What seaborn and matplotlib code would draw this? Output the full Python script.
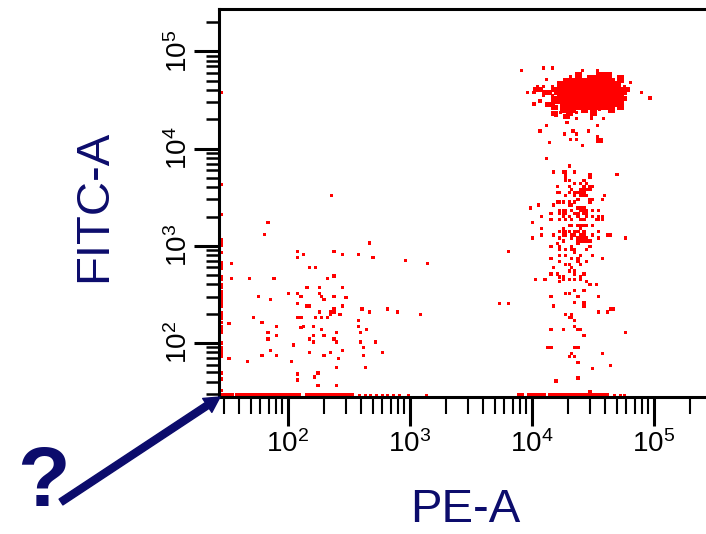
import numpy as np
import pandas as pd
import matplotlib
matplotlib.use("Agg")
import matplotlib.pyplot as plt
import seaborn as sns
from matplotlib.ticker import FixedLocator, NullFormatter, FuncFormatter
from matplotlib.patches import FancyArrowPatch
from matplotlib.transforms import IdentityTransform

# ---------------- data (log10 of the channel values) ----
# negative (FITC-low / PE-low) population: paired lists
neg_pe = [2.36, 1.84, 1.81, 2.67, 2.08, 2.38, 2.13, 2.08, 2.45, 2.58, 2.70, 2.97, 3.15, 1.54,
          2.18, 2.23, 1.54, 1.69, 1.89, 2.33, 2.38, 2.16, 2.26, 2.45, 1.76, 1.86, 2.01, 2.08,
          2.11, 2.26, 2.28, 2.30, 2.38, 2.48, 2.08, 2.16, 2.18, 2.45, 2.38, 2.26, 2.35, 2.38,
          2.61, 2.67, 2.82, 2.90, 3.09, 2.43, 2.35, 2.33, 2.28, 2.23, 2.08, 2.11, 1.72, 1.52,
          1.79, 1.91, 2.11, 2.13, 2.21, 2.28, 2.58, 2.58, 2.65, 1.84, 1.91, 2.21, 2.30, 2.40,
          2.60, 1.84, 2.18, 2.21, 2.38, 2.40, 2.60, 2.72, 2.05, 2.62, 1.86, 2.45, 1.79, 1.91,
          2.18, 2.30, 2.35, 2.62, 2.78, 1.52, 1.67, 2.03, 2.42, 2.40, 2.64, 2.08, 2.25, 2.22,
          2.08, 2.25, 2.40, 1.86, 2.35, 3.81, 3.74, 3.81]
neg_fitc = [3.52, 3.24, 3.12, 3.03, 2.94, 2.94, 2.91, 2.88, 2.91, 2.91, 2.88, 2.85, 2.82, 2.82,
            2.78, 2.78, 2.66, 2.66, 2.66, 2.66, 2.69, 2.57, 2.57, 2.57, 2.48, 2.45, 2.51, 2.51,
            2.48, 2.51, 2.48, 2.45, 2.48, 2.47, 2.41, 2.38, 2.38, 2.38, 2.35, 2.32, 2.32, 2.32,
            2.35, 2.32, 2.35, 2.32, 2.29, 2.29, 2.29, 2.26, 2.26, 2.26, 2.26, 2.26, 2.26, 2.20,
            2.21, 2.17, 2.16, 2.17, 2.17, 2.14, 2.23, 2.17, 2.14, 2.11, 2.08, 2.08, 2.08, 2.11,
            2.11, 2.04, 2.04, 2.01, 2.04, 2.01, 2.01, 2.01, 1.98, 1.95, 1.92, 1.92, 1.87, 1.87,
            1.90, 1.87, 1.90, 1.87, 1.90, 1.84, 1.81, 1.81, 1.84, 1.75, 1.75, 1.68, 1.69, 1.65,
            1.62, 1.56, 1.56, 1.47, 1.47, 2.94, 2.41, 2.41]

# positive (PE-high) population: one FITC value per row, PE values in that row
pos_fitc_rows = [4.83, 4.80, 4.74, 4.71, 4.68, 4.64, 4.58, 4.55, 4.52, 4.49, 4.46, 4.40, 4.37,
                 4.34, 4.31, 4.27, 4.24, 4.18, 4.15, 4.12, 4.09, 4.06, 4.03, 3.90, 3.82, 3.76,
                 3.73, 3.70, 3.67, 3.64, 3.61, 3.58, 3.55, 3.52, 3.48, 3.45, 3.42, 3.39, 3.36,
                 3.33, 3.30, 3.27, 3.24, 3.21, 3.18, 3.15, 3.11, 3.08, 3.05, 3.02, 2.99, 2.96,
                 2.93, 2.90, 2.87, 2.84, 2.81, 2.78, 2.74, 2.71, 2.68, 2.65, 2.63, 2.60, 2.54,
                 2.51, 2.48, 2.42, 2.38, 2.35, 2.32, 2.29, 2.26, 2.23, 2.17, 2.14, 2.11, 2.08,
                 1.95, 1.89, 1.86, 1.80, 1.77, 1.74, 1.64, 1.61, 1.50, 1.47]
pos_pe_rows = [
    [4.10, 4.17], [3.92, 4.42, 4.54], [4.32], [4.12], [4.81], [4.05, 4.10, 4.17, 4.76],
    [3.97, 4.02, 4.90], [4.10, 4.17], [4.97], [4.07], [4.02], [4.56], [4.24, 4.37],
    [4.20, 4.49], [4.37, 4.49, 4.59], [4.29], [4.12, 4.54], [4.07, 4.34, 4.47], [4.27, 4.37],
    [4.54], [4.32, 4.37], [4.15], [4.42], [4.12], [4.31], [4.18, 4.26, 4.28, 4.35],
    [4.28, 4.48, 4.70], [4.28, 4.48], [4.28, 4.31, 4.43], [4.35, 4.40, 4.45],
    [4.21, 4.31, 4.43, 4.48, 4.50], [4.33, 4.40, 4.43, 4.45, 4.48],
    [4.21, 4.23, 4.31, 4.35, 4.38, 4.40, 4.43], [4.28, 4.35, 4.40, 4.43, 4.45, 4.60],
    [4.38, 4.48, 4.50, 4.58], [4.21, 4.23, 4.26, 4.31, 4.35, 4.48], [4.06, 4.18, 4.31, 4.33],
    [3.99, 4.38, 4.40, 4.43], [4.23, 4.26, 4.28, 4.33, 4.40, 4.43, 4.45, 4.50, 4.55],
    [4.16, 4.23, 4.26, 4.28, 4.35, 4.38, 4.43, 4.45],
    [4.08, 4.26, 4.31, 4.38, 4.45, 4.50, 4.55, 4.58],
    [4.16, 4.23, 4.28, 4.33, 4.40, 4.43, 4.53, 4.55, 4.58], [4.01],
    [4.31, 4.33, 4.38, 4.40, 4.43, 4.45, 4.50], [4.08, 4.26, 4.40],
    [4.23, 4.26, 4.28, 4.31, 4.35, 4.38, 4.43, 4.55],
    [4.08, 4.18, 4.26, 4.28, 4.33, 4.35, 4.40, 4.43, 4.50, 4.62, 4.65],
    [4.01, 4.23, 4.33, 4.38, 4.40, 4.43, 4.45, 4.55, 4.77],
    [4.26, 4.38, 4.40, 4.43, 4.45, 4.48], [4.21, 4.38], [4.16, 4.23, 4.33, 4.48],
    [4.23, 4.28, 4.33, 4.35, 4.45], [4.35], [4.23, 4.28, 4.40, 4.50], [4.16, 4.33, 4.38, 4.58],
    [4.23, 4.38, 4.45], [4.28, 4.31, 4.40], [4.18, 4.33], [4.31, 4.35], [4.16, 4.21, 4.35, 4.43],
    [4.23, 4.26, 4.40], [4.03, 4.11, 4.26, 4.31, 4.35, 4.40], [4.23, 4.45], [4.48, 4.53],
    [4.35, 4.43], [4.28, 4.31], [4.16, 4.38, 4.55], [4.35, 4.43], [4.18, 4.43], [4.65, 4.67],
    [4.55, 4.62], [4.28, 4.33], [4.31, 4.33], [4.35], [4.35], [4.16, 4.26, 4.38, 4.40], [4.77],
    [4.43], [4.13, 4.16, 4.35, 4.38], [4.33, 4.58], [4.31, 4.35], [4.38], [4.65], [4.50],
    [4.38], [4.20], [4.48], [4.38]]

# events piled on the axes (off-scale low)
axis_low = 1.46
left_edge_fitc = [4.58, 3.63, 3.32, 3.06, 3.03, 3.00, 2.93, 2.83, 2.80, 2.77, 2.68, 2.65, 2.60,
                  2.57, 2.53, 2.50, 2.47, 2.44, 2.41, 2.38, 2.31, 2.28, 2.25, 2.21, 2.17, 2.14,
                  2.11, 2.00, 1.95, 1.92, 1.89, 1.86, 1.69, 1.63, 1.51]
bottom_edge_pe = [2.59, 2.64, 2.68, 2.73, 2.78, 2.82, 2.87, 2.92, 2.99, 3.14, 4.68, 4.73, 4.76]

# saturated runs of events (dense core of the positive cluster and the bottom pile)
dense_fitc = [4.767, 4.767, 4.736, 4.736, 4.736, 4.706, 4.706, 4.675, 4.644, 4.613, 4.613,
              4.582, 4.582, 4.551, 4.521, 4.490, 4.459, 4.459, 4.428, 4.428, 4.428, 4.397,
              4.397, 4.397, 4.397, 4.366, 4.366, 4.366, 4.336, 4.089,
              1.46, 1.46, 1.46, 1.46, 1.46, 1.46]
dense_pe_lo = [4.357, 4.529, 4.357, 4.455, 4.701, 4.258, 4.701, 4.209, 4.209, 4.012, 4.160,
               4.086, 4.184, 4.209, 4.160, 4.160, 4.111, 4.234, 4.160, 4.234, 4.701, 4.234,
               4.406, 4.479, 4.627, 4.160, 4.283, 4.479, 4.258, 4.529,
               1.447, 1.570, 2.143, 3.881, 3.963, 4.135]
dense_pe_hi = [4.406, 4.652, 4.406, 4.652, 4.750, 4.676, 4.750, 4.725, 4.725, 4.086, 4.799,
               4.160, 4.775, 4.750, 4.775, 4.750, 4.184, 4.750, 4.209, 4.676, 4.750, 4.357,
               4.455, 4.529, 4.676, 4.209, 4.332, 4.529, 4.307, 4.578,
               1.553, 2.102, 2.537, 3.930, 4.111, 4.627]

tick_exponents = [2, 3, 4, 5]
x_label = "PE-A"
y_label = "FITC-A"
log_range_x = (1.4385, 5.430)
log_range_y = (1.4444, 5.431)

# ---------------- build the event table ------------------------------------
pe_vals = list(neg_pe)
fitc_vals = list(neg_fitc)
for f, row in zip(pos_fitc_rows, pos_pe_rows):
    pe_vals += row
    fitc_vals += [f] * len(row)
pe_vals += [axis_low] * len(left_edge_fitc)
fitc_vals += left_edge_fitc
pe_vals += bottom_edge_pe
fitc_vals += [axis_low] * len(bottom_edge_pe)

df = pd.DataFrame({x_label: 10 ** np.array(pe_vals), y_label: 10 ** np.array(fitc_vals)})

# ---------------- style ------------------------------------------------------
sns.set_style("ticks")
plt.rcParams['font.family'] = ['Liberation Sans', 'DejaVu Sans']
plt.rcParams['mathtext.fontset'] = 'custom'
plt.rcParams['mathtext.rm'] = 'Liberation Sans'
plt.rcParams['mathtext.it'] = 'Liberation Sans'
navy = '#0c0c6c'
red = '#ff0000'

W, H = 706, 534
fig = plt.figure(figsize=(W / 100, H / 100), dpi=100)
ax = fig.add_axes([219 / W, 137 / H, 487 / W, 387.5 / H])

sns.scatterplot(data=df, x=x_label, y=y_label, ax=ax, marker='s', s=5.5,
                color=red, linewidth=0, edgecolor='none', legend=False, antialiased=False)
ax.hlines(10 ** np.array(dense_fitc), 10 ** np.array(dense_pe_lo), 10 ** np.array(dense_pe_hi),
          colors=red, linewidth=2.3, capstyle='butt', antialiased=False)

ax.set_xscale('log')
ax.set_yscale('log')
ax.set_xlim(10 ** log_range_x[0], 10 ** log_range_x[1])
ax.set_ylim(10 ** log_range_y[0], 10 ** log_range_y[1])
ax.set_xlabel('')
ax.set_ylabel('')

majors = [10.0 ** e for e in tick_exponents]
minors = [k * 10.0 ** d for d in range(1, 6) for k in range(2, 10)]
fmt = FuncFormatter(lambda v, p: r'$\mathregular{10^{%d}}$' % int(round(np.log10(v))))
for axis in (ax.xaxis, ax.yaxis):
    axis.set_major_locator(FixedLocator(majors))
    axis.set_minor_locator(FixedLocator(minors))
    axis.set_major_formatter(fmt)
    axis.set_minor_formatter(NullFormatter())

for side in ('left', 'bottom', 'top'):
    ax.spines[side].set_linewidth(2.2)
    ax.spines[side].set_color('black')
ax.spines['right'].set_visible(False)

ax.tick_params(axis='x', which='major', length=21, width=2.2, pad=3, labelsize=20,
               direction='out', colors='black')
ax.tick_params(axis='x', which='minor', length=12.5, width=1.5, direction='out', colors='black')
ax.tick_params(axis='y', which='major', length=18, width=2.2, pad=1, labelsize=20,
               labelrotation=90, direction='out', colors='black')
ax.tick_params(axis='y', which='minor', length=9.5, width=1.8, direction='out', colors='black')
plt.setp(ax.yaxis.get_majorticklabels(), va='center', ha='right')

# axis titles
fig.text(94.5 / W, 1 - 206 / H, y_label, rotation=90, fontsize=34, color=navy,
         ha='center', va='center')
fig.text(465.5 / W, 1.5 / H, x_label, fontsize=34, color=navy,
         ha='center', va='bottom')

# question mark and arrow
fig.text(43 / W, (H - 506) / H, '?', fontsize=62, fontweight='bold', color=navy,
         ha='center', va='baseline')
arrow = FancyArrowPatch((61, H - 502), (220, H - 397), transform=IdentityTransform(),
                        arrowstyle='simple,head_length=11,head_width=12,tail_width=5',
                        mutation_scale=1, color=navy, shrinkA=0, shrinkB=0, zorder=10)
fig.add_artist(arrow)

fig.savefig('out.png', dpi=100, facecolor='white')
